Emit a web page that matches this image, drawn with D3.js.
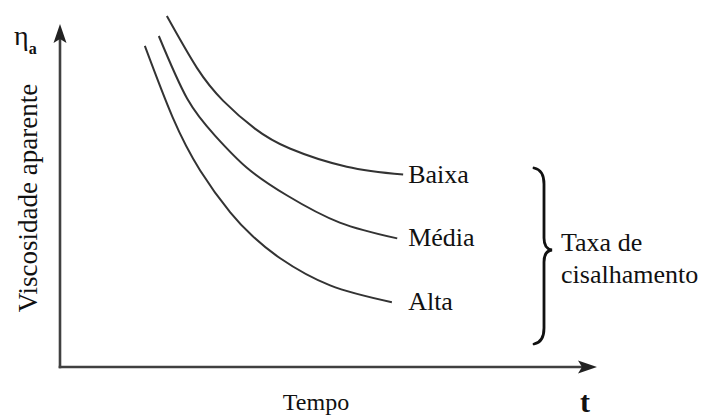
<!DOCTYPE html>
<html>
<head>
<meta charset="utf-8">
<script src="https://cdn.jsdelivr.net/npm/d3@7"></script>
<style>
  html, body { margin: 0; padding: 0; background: #fff; }
  svg { display: block; }
</style>
</head>
<body>
<svg id="chart" width="707" height="419"></svg>
<script>
// Apparent viscosity vs. time, one curve per shear rate (arbitrary units)
const seriesNames = ["Baixa", "Média", "Alta"];
const timeBaixa = [1.99, 2.55, 3.04, 3.63, 4.28, 5.34, 6.39];
const viscBaixa = [10.23, 8.72, 7.76, 6.95, 6.37, 5.84, 5.61];
const timeMedia = [1.84, 2.37, 2.89, 3.48, 4.23, 5.21, 6.28];
const viscMedia = [9.65, 7.82, 6.74, 5.81, 5.00, 4.21, 3.75];
const timeAlta = [1.58, 2.10, 2.61, 3.17, 3.59, 4.10, 5.03, 6.18];
const viscAlta = [9.36, 7.27, 5.73, 4.51, 3.81, 3.17, 2.38, 1.89];
const axisLabels = { x: "Tempo", xSymbol: "t", y: "Viscosidade aparente", ySymbol: "η", ySub: "a" };
const groupLabel = ["Taxa de", "cisalhamento"];

const serif = "'Liberation Serif', 'Times New Roman', Tinos, 'DejaVu Serif', serif";

const svg = d3.select("#chart");

const x = d3.scaleLinear().domain([0, 10]).range([60, 597]);
const y = d3.scaleLinear().domain([0, 10]).range([367, 24]);

const axisColor = "#404040";

// axes with arrowheads
svg.append("line")
  .attr("x1", x(0)).attr("y1", y(0) + 1.2)
  .attr("x2", x(0)).attr("y2", y(10) + 12)
  .attr("stroke", axisColor).attr("stroke-width", 2.6);
svg.append("line")
  .attr("x1", x(0) - 1.3).attr("y1", y(0))
  .attr("x2", x(10) - 12).attr("y2", y(0))
  .attr("stroke", axisColor).attr("stroke-width", 2.6);

const ax = x(0), ay = y(10);
svg.append("path")
  .attr("d", `M${ax},${ay} L${ax + 6.5},${ay + 19} L${ax},${ay + 15} L${ax - 6.5},${ay + 19} Z`)
  .attr("fill", "#222");
const bx = x(10), by = y(0);
svg.append("path")
  .attr("d", `M${bx},${by} L${bx - 19},${by + 6.5} L${bx - 15},${by} L${bx - 19},${by - 6.5} Z`)
  .attr("fill", "#222");

// curves
const line = d3.line()
  .x(d => x(d[0]))
  .y(d => y(d[1]))
  .curve(d3.curveNatural);

const series = [
  { name: seriesNames[0], t: timeBaixa, v: viscBaixa },
  { name: seriesNames[1], t: timeMedia, v: viscMedia },
  { name: seriesNames[2], t: timeAlta, v: viscAlta }
];

// labels share one left edge just past the rightmost curve end
const labelX = d3.max(series, s => x(s.t[s.t.length - 1])) + 5;

series.forEach(s => {
  const pts = s.t.map((t, i) => [t, s.v[i]]);
  svg.append("path")
    .datum(pts)
    .attr("d", line)
    .attr("fill", "none")
    .attr("stroke", "#333")
    .attr("stroke-width", 2);
  const last = pts[pts.length - 1];
  svg.append("text")
    .attr("x", labelX)
    .attr("y", y(last[1]) + 8)
    .attr("font-family", serif)
    .attr("font-size", 26)
    .attr("fill", "#111")
    .text(s.name);
});

// brace grouping the three shear rates
const braceTop = 168, braceBot = 344;
const braceMid = 250;
const bxl = 534, bxv = 544, bxt = 552;
svg.append("path")
  .attr("d", `M${bxl},${braceTop} Q${bxv},${braceTop + 2} ${bxv},${braceTop + 16}
    L${bxv},${braceMid - 12} Q${bxv},${braceMid - 1} ${bxt},${braceMid}
    Q${bxv},${braceMid + 1} ${bxv},${braceMid + 12}
    L${bxv},${braceBot - 16} Q${bxv},${braceBot - 2} ${bxl},${braceBot}`)
  .attr("fill", "none")
  .attr("stroke", "#111")
  .attr("stroke-width", 2.8)
  .attr("stroke-linecap", "round");

svg.append("text").attr("x", 561).attr("y", 251).attr("font-family", serif).attr("font-size", 26).attr("fill", "#111").text(groupLabel[0]);
svg.append("text").attr("x", 561).attr("y", 283).attr("font-family", serif).attr("font-size", 26).attr("fill", "#111").text(groupLabel[1]);

// axis titles
svg.append("text")
  .attr("x", 316).attr("y", 410)
  .attr("text-anchor", "middle")
  .attr("font-family", serif)
  .attr("font-size", 24)
  .attr("fill", "#111")
  .text(axisLabels.x);
svg.append("text")
  .attr("x", 585).attr("y", 412)
  .attr("text-anchor", "middle")
  .attr("font-family", serif)
  .attr("font-size", 30)
  .attr("font-weight", "bold")
  .attr("fill", "#111")
  .text(axisLabels.xSymbol);

svg.append("text")
  .attr("transform", "translate(37,198) rotate(-90)")
  .attr("text-anchor", "middle")
  .attr("font-family", serif)
  .attr("font-size", 27)
  .attr("fill", "#111")
  .text(axisLabels.y);

const eta = svg.append("text").attr("x", 14).attr("y", 45)
  .attr("font-family", serif).attr("font-size", 28).attr("fill", "#111");
eta.append("tspan").text(axisLabels.ySymbol);
eta.append("tspan").attr("dy", 9).attr("font-size", 16).attr("font-weight", "bold").text(axisLabels.ySub);
</script>
</body>
</html>
